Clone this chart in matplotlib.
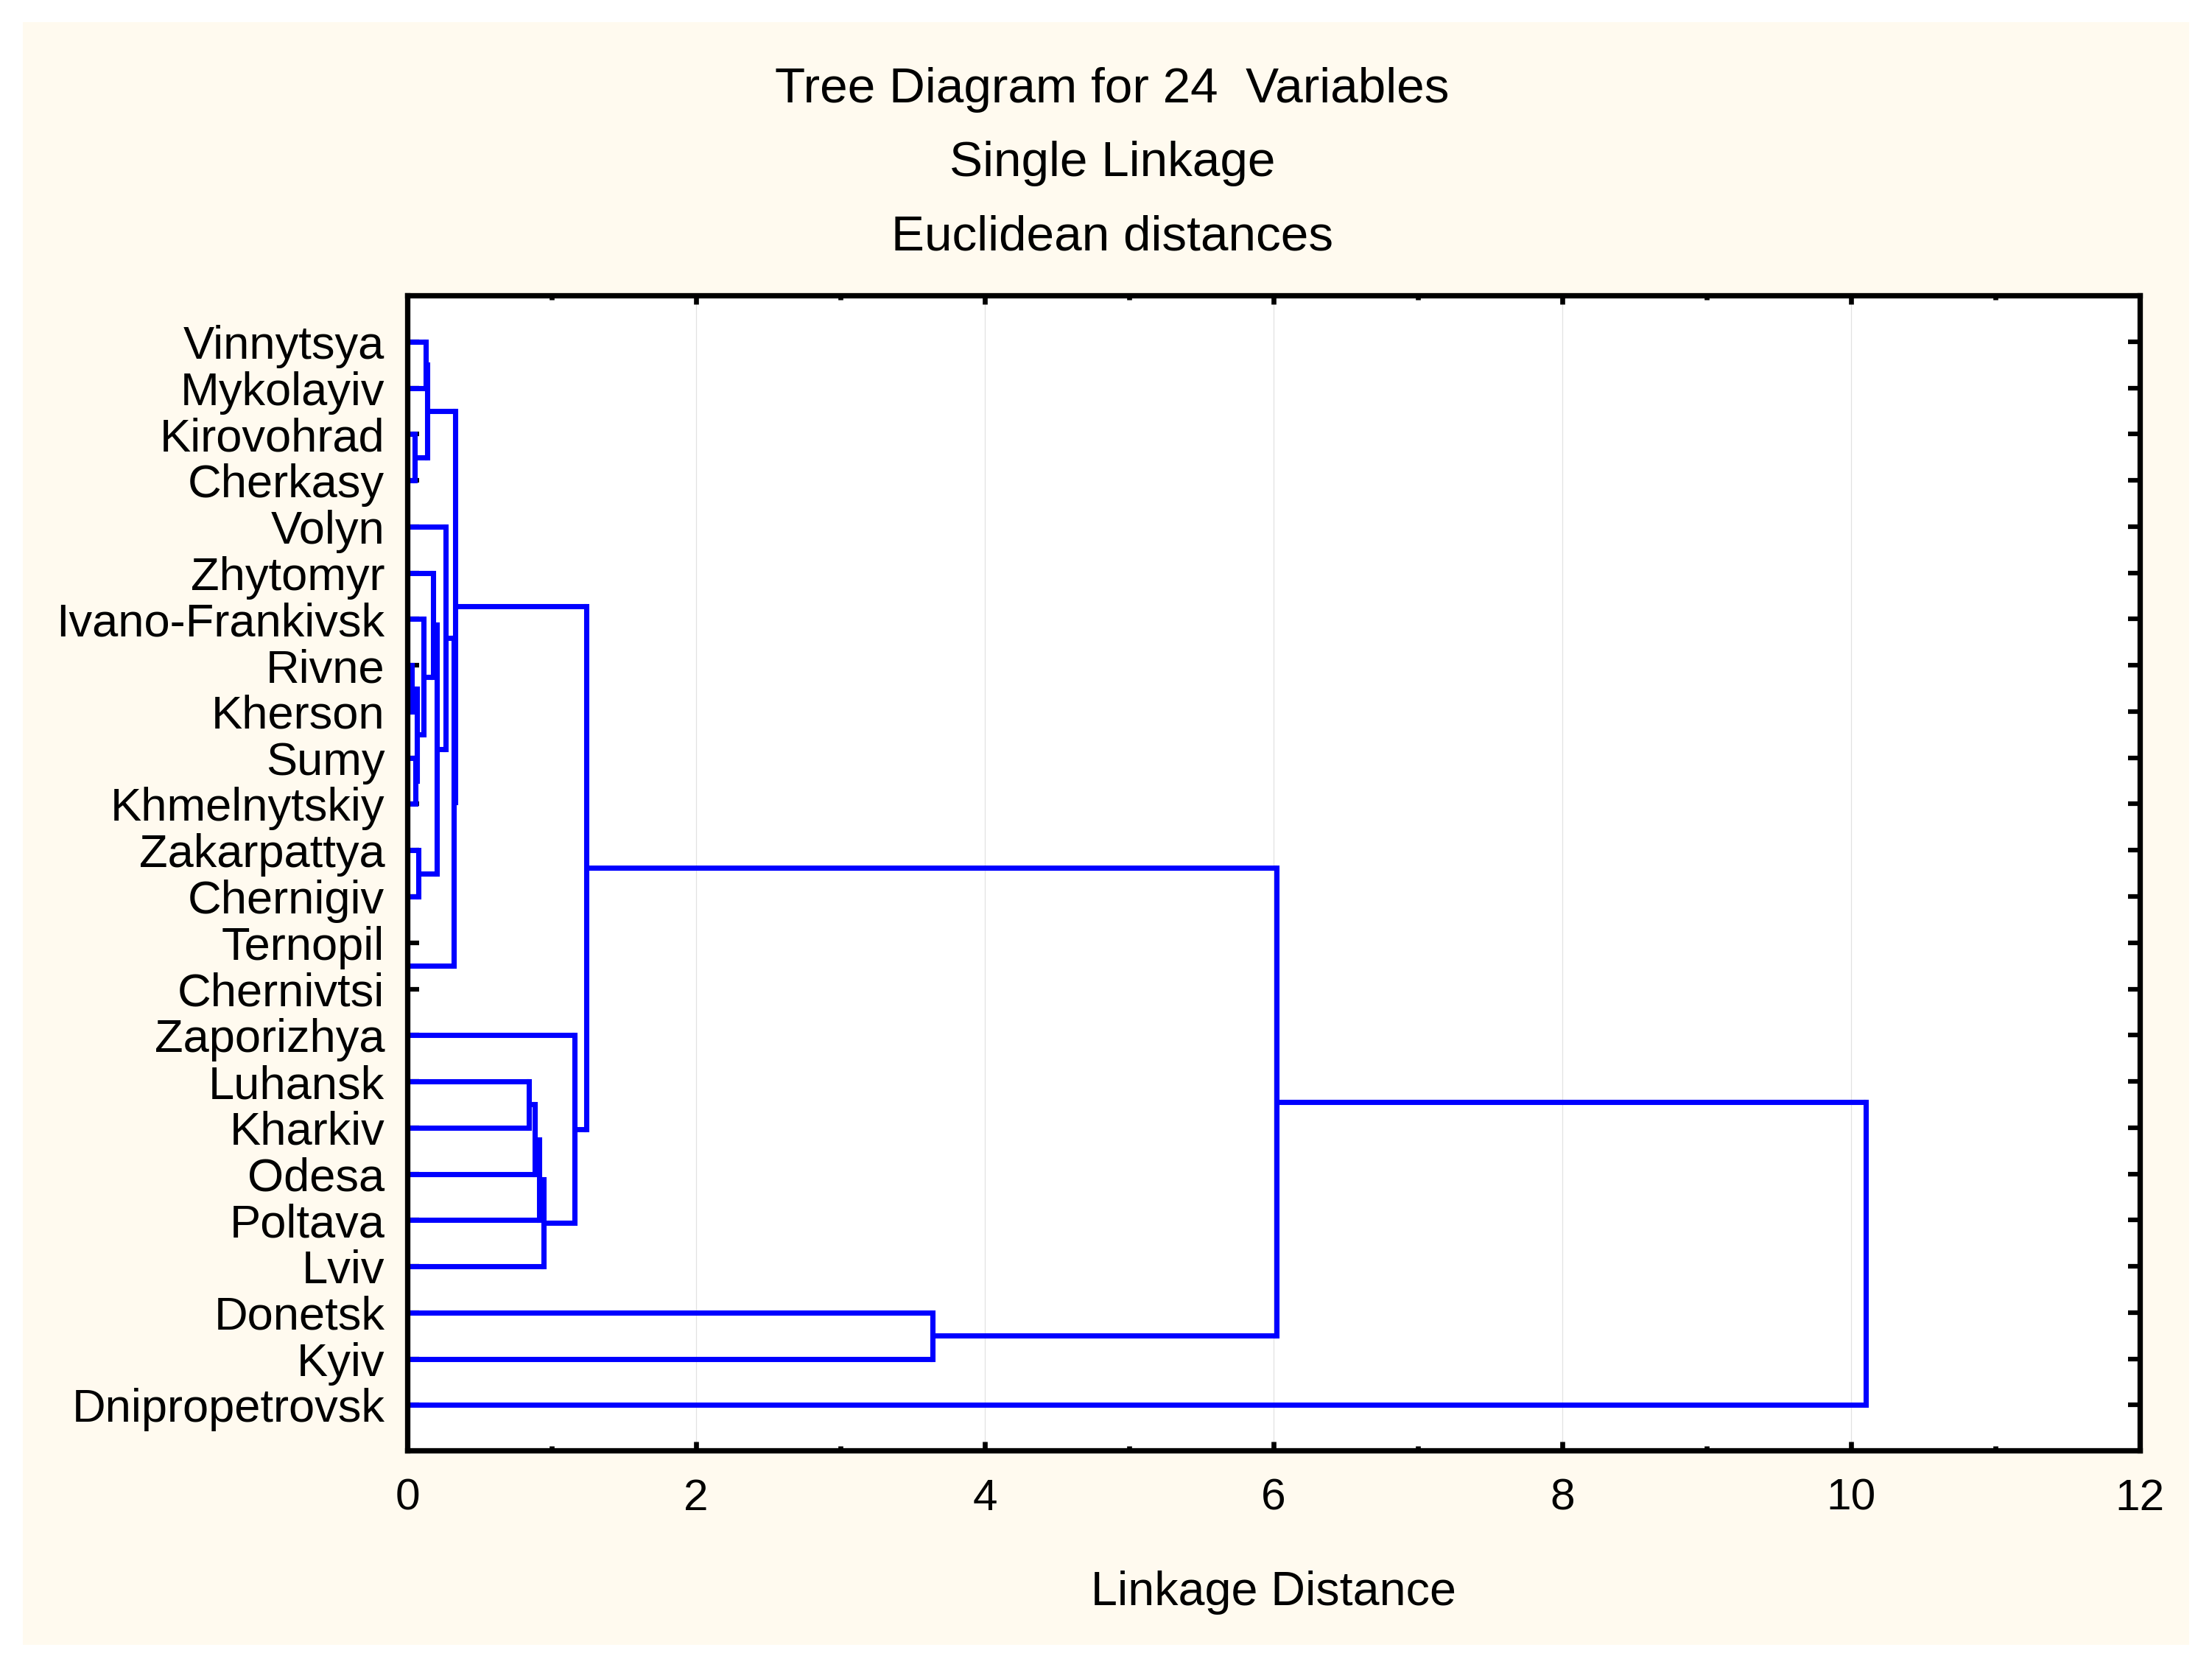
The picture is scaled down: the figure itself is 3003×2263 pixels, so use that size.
import matplotlib
matplotlib.use("Agg")
import matplotlib.pyplot as plt
from matplotlib.patches import Rectangle

plt.rcParams['font.family'] = ['Liberation Sans', 'DejaVu Sans']

# ---- data -------------------------------------------------------------
leaves = ["Vinnytsya", "Mykolayiv", "Kirovohrad", "Cherkasy", "Volyn",
          "Zhytomyr", "Ivano-Frankivsk", "Rivne", "Kherson", "Sumy",
          "Khmelnytskiy", "Zakarpattya", "Chernigiv", "Ternopil",
          "Chernivtsi", "Zaporizhya", "Luhansk", "Kharkiv", "Odesa",
          "Poltava", "Lviv", "Donetsk", "Kyiv", "Dnipropetrovsk"]

# merges: (left member, right member, new cluster name)
merge_left = ["Vinnytsya", "Kirovohrad", "c1", "Rivne", "Sumy", "c3",
              "Ivano-Frankivsk", "Zhytomyr", "Zakarpattya", "c7", "Volyn",
              "Ternopil", "c10", "A", "Luhansk", "d1", "d2", "d3",
              "Zaporizhya", "c13", "Donetsk", "e1", "e3"]
merge_right = ["Mykolayiv", "Cherkasy", "c2", "Kherson", "Khmelnytskiy", "c4",
               "c5", "c6", "Chernigiv", "c8", "c9",
               "Chernivtsi", "c11", "c12", "Kharkiv", "Odesa", "Poltava", "Lviv",
               "d4", "d5", "Kyiv", "e2", "Dnipropetrovsk"]
merge_name = ["c1", "c2", "A", "c3", "c4", "c5",
              "c6", "c7", "c8", "c9", "c10",
              "c11", "c12", "c13", "d1", "d2", "d3", "d4",
              "d5", "e1", "e2", "e3", "root"]
merge_height = [0.125, 0.05, 0.138, 0.03, 0.055, 0.065,
                0.11, 0.18, 0.075, 0.205, 0.265,
                0.0, 0.32, 0.33, 0.842, 0.883, 0.913, 0.943,
                1.158, 1.24, 3.64, 6.02, 10.1]

xticks = [0, 2, 4, 6, 8, 10, 12]
title_lines = ["Tree Diagram for 24  Variables", "Single Linkage",
               "Euclidean distances"]
x_label = "Linkage Distance"

# ---- figure -----------------------------------------------------------
W, H = 3003, 2263
dpi = 300
fig = plt.figure(figsize=(W / dpi, H / dpi), dpi=dpi, facecolor="white")
fig.patches.append(Rectangle((31 / W, 30 / H), (W - 62) / W, (H - 60) / H,
                             transform=fig.transFigure, facecolor="#FFFAEF",
                             edgecolor="none", zorder=-5))

ax = fig.add_axes([553 / W, 1 - 1969 / H, (2905 - 553) / W, (1969 - 401) / H])
ax.set_zorder(1)
ax.set_facecolor("white")

blue = "#0000FF"
lw = 1.7
pos = {name: i for i, name in enumerate(leaves)}
hgt = {name: 0.0 for name in leaves}
for l, r, n, h in zip(merge_left, merge_right, merge_name, merge_height):
    yl, yr = pos[l], pos[r]
    ax.plot([hgt[l], h], [yl, yl], color=blue, lw=lw, solid_capstyle="butt", zorder=2)
    ax.plot([hgt[r], h], [yr, yr], color=blue, lw=lw, solid_capstyle="butt", zorder=2)
    ax.plot([h, h], [yl, yr], color=blue, lw=lw, solid_capstyle="projecting", zorder=2)
    pos[n] = (yl + yr) / 2.0
    hgt[n] = h

for xt in xticks[1:-1]:
    ax.axvline(xt, color="#E2E2E2", lw=0.3, zorder=0.5)

ax.set_xlim(0, 12)
ax.set_ylim(23.98, -1)
ax.set_yticks(range(len(leaves)))
ax.set_yticklabels(leaves, fontsize=15.2)
ax.set_xticks(xticks)
ax.set_xticklabels([str(t) for t in xticks], fontsize=14.5)
ax.set_xticks(range(1, 12, 2), minor=True)
ax.tick_params(axis="y", which="major", direction="in", length=3.8, width=1.5,
               left=True, right=True, pad=7.4)
ax.tick_params(axis="x", which="major", direction="in", length=2.9, width=1.6,
               bottom=True, top=True, pad=9)
ax.tick_params(axis="x", which="minor", direction="in", length=1.5, width=1.6,
               bottom=True, top=True)
for sp in ax.spines.values():
    sp.set_linewidth(1.75)
    sp.set_zorder(3)
ax.set_xlabel(x_label, fontsize=15.5, labelpad=17)

for yy, txt in zip([122, 222, 322], title_lines):
    fig.text(1510 / W, 1 - yy / H, txt, ha="center", va="center", fontsize=16.2)

fig.savefig("out.png", dpi=dpi, facecolor="white")
